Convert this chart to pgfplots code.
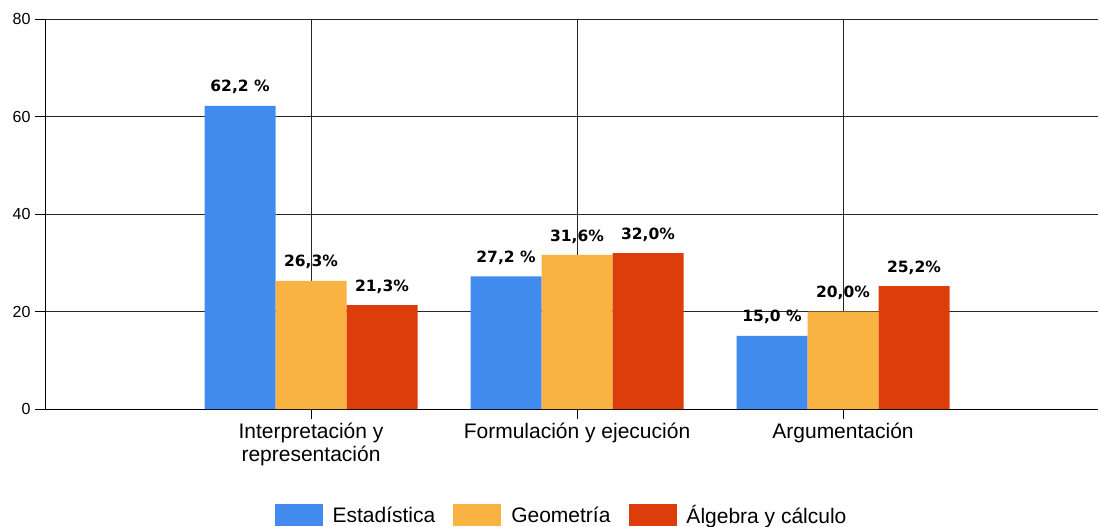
\documentclass[border=0pt]{standalone}
\usepackage{fontspec}
\setmainfont{Liberation Sans}
\newfontfamily\lblfont{DejaVu Sans}
\usepackage{pgfplots}
\pgfplotsset{compat=1.18}
\definecolor{cEst}{RGB}{66,139,238}
\definecolor{cGeo}{RGB}{249,179,66}
\definecolor{cAlg}{RGB}{220,61,10}
\begin{document}
\begin{tikzpicture}
\useasboundingbox (-45pt,-118pt) rectangle (1055pt,409pt);
\begin{axis}[
  at={(0,0)}, anchor=south west,
  scale only axis, width=1053pt, height=390pt,
  ybar=0pt, bar width=71pt,
  xmin=-1, xmax=2.9586, ymin=0, ymax=80,
  xtick={0,1,2},
  xticklabels={{Interpretación y\\representación},{Formulación y ejecución},{Argumentación}},
  ytick={0,20,40,60,80},
  axis x line=bottom, axis y line=left,
  axis line style={-, black, line width=0.8pt},
  xmajorgrids, ymajorgrids,
  grid style={draw=black!85, line width=0.8pt},
  tick align=outside, major tick length=10pt,
  tick style={draw=black, line width=0.8pt},
  /pgf/number format/assume math mode=true,
  yticklabel style={font=\fontsize{16}{16}\selectfont, xshift=-1pt},
  xticklabel style={font=\fontsize{21}{23}\selectfont, align=center, yshift=-1pt},
  point meta=explicit symbolic,
  nodes near coords={\pgfplotspointmeta},
  nodes near coords style={font=\lblfont\bfseries\fontsize{15.5}{16}\selectfont, anchor=south, inner sep=0pt, yshift=11.5pt, black},
  legend style={draw=none, at={(0.4905,-0.272)}, anchor=center, legend columns=3,
    font=\fontsize{21}{23}\selectfont,
    /tikz/every odd column/.append style={column sep=8pt},
    /tikz/every even column/.append style={column sep=16pt}},
  legend image code/.code={\fill[#1] (0pt,-11pt) rectangle (48pt,11pt);},
]
\addplot[fill=cEst, draw=none] coordinates {(0,62.2)[{62,2 \%}] (1,27.2)[{27,2 \%}] (2,15.0)[{15,0 \%}]};
\addplot[fill=cGeo, draw=none] coordinates {(0,26.3)[{26,3\%}] (1,31.6)[{31,6\%}] (2,20.0)[{20,0\%}]};
\addplot[fill=cAlg, draw=none] coordinates {(0,21.3)[{21,3\%}] (1,32.0)[{32,0\%}] (2,25.2)[{25,2\%}]};
\legend{Estadística, Geometría, Álgebra y cálculo}
\end{axis}
\end{tikzpicture}
\end{document}
